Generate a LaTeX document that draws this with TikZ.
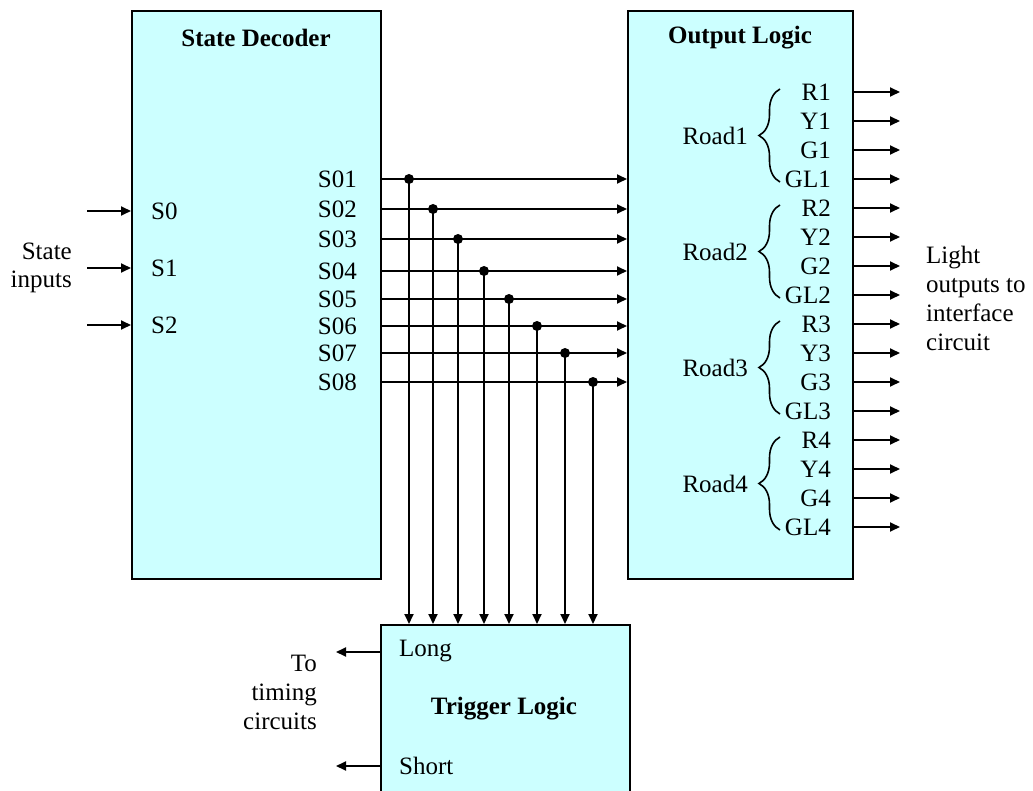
\documentclass[tikz,border=0pt]{standalone}
\usepackage{fontspec}
\setmainfont{Liberation Serif}
\usetikzlibrary{arrows.meta, positioning, decorations.pathreplacing, calc}
\definecolor{boxcyan}{RGB}{204,255,255}

\begin{document}
\begin{tikzpicture}[x=1pt,y=-1pt,
  blk/.style={draw,line width=1.8pt,fill=boxcyan,inner sep=0pt},
  lbl/.style={font=\fontsize{25}{29}\selectfont,inner sep=1pt},
  ttl/.style={font=\fontsize{25}{29}\selectfont\bfseries,inner sep=1pt},
  sig/.style={line width=1.8pt,-{Triangle[length=10pt,width=9pt]}},
  jdot/.style={circle,fill,inner sep=0pt,minimum size=10pt},
  rbrace/.style={line width=1.6pt,decorate,decoration={brace,amplitude=21pt}}]
  \useasboundingbox (0,0) rectangle (1033,791);
  % blocks
  \node[blk,anchor=north west,minimum width=249pt,minimum height=568pt] (dec) at (131,10) {};
  \node[blk,anchor=north west,minimum width=225pt,minimum height=568pt] (out) at (627,10) {};
  \node[blk,anchor=north west,minimum width=249pt,minimum height=180pt] (trig) at (380,624) {};
  \node[ttl] (dectitle) at (256,38) {State Decoder};
  \node[ttl] (outtitle) at (740,38) {Output Logic};
  \node[ttl] (trigtitle) at (504,709) {Trigger Logic};
  % state inputs
  \foreach \i/\y in {0/211,1/268,2/325} {
    \node[lbl,anchor=west] (s\i) at (150,\y) {S\i};
    \coordinate (in\i) at (87,\y);
    \draw[sig] (in\i) -- (in\i -| dec.west);
  }
  \node[lbl,anchor=east,align=right,font=\fontsize{25}{28}\selectfont] (stin) at (73,268) {State\\inputs};
  % decoder outputs and taps to the trigger logic
  \foreach \i/\y/\xd in {1/179/409,2/209/433,3/239/458,4/271/484,
                         5/299/509,6/326/537,7/353/565,8/382/593} {
    \node[lbl,anchor=east] (so\i) at (358,\y) {S0\i};
    \coordinate (src\i) at (380,\y);
    \draw[sig] (src\i) -- (src\i -| out.west);
    \node[jdot] (j\i) at (\xd,\y) {};
    \draw[sig] (j\i.center) -- (j\i |- trig.north);
  }
  % light outputs
  \foreach \r in {1,...,4} {
    \foreach \c [count=\k] in {R,Y,G,GL} {
      \pgfmathsetmacro{\y}{92+29*((\r-1)*4+\k-1)}
      \node[lbl,anchor=east] (l\c\r) at (832,\y) {\c\r};
      \coordinate (lt\c\r) at (900,\y);
      \draw[sig] (out.east |- lt\c\r) -- (lt\c\r);
    }
    \draw[rbrace] ($(lGL\r.east)+(-52,3)$) coordinate (bb\r) -- ($(lR\r.east)+(-52,-3)$) coordinate (bt\r);
    \node[lbl,anchor=east] (road\r) at ($(bb\r)!0.5!(bt\r)+(-31,0)$) {Road\r};
  }
  \node[lbl,anchor=west,align=left] (lightout) at (925,298) {Light\\outputs to\\interface\\circuit};
  % trigger outputs
  \node[lbl,anchor=west] (long) at (398,651) {Long};
  \node[lbl,anchor=west] (short) at (398,766) {Short};
  \coordinate (tolong) at (336,652);
  \coordinate (toshort) at (336,766);
  \draw[sig] (trig.west |- tolong) -- (tolong);
  \draw[sig] (trig.west |- toshort) -- (toshort);
  \node[lbl,anchor=east,align=right] (timing) at (318,692) {To\\timing\\circuits};
\end{tikzpicture}
\end{document}
